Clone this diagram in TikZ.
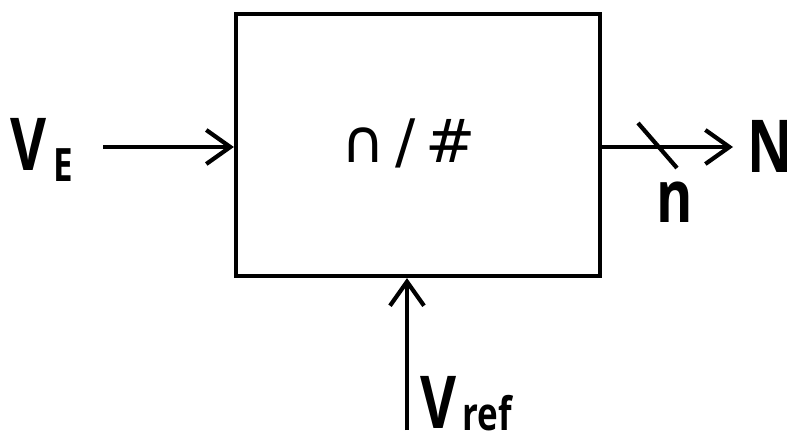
\documentclass[tikz,border=0pt]{standalone}
\usepackage{fontspec}
\setmainfont{Open Sans}[FakeStretch=0.76]
\newfontfamily\symfont{DejaVu Sans}
\usetikzlibrary{arrows.meta}
\begin{document}
\begin{tikzpicture}[x=1pt,y=-1pt,
  wire/.style={line width=4.2pt},
  sig/.style={wire,-{Straight Barb[length=24pt,width=34pt,line width=4.2pt]}},
  big/.style={inner sep=0pt,font=\fontsize{73}{73}\selectfont\bfseries},
  small/.style={inner sep=0pt,font=\fontsize{46}{46}\selectfont\bfseries}]
  \useasboundingbox (0,0) rectangle (787,441);
  % converter block
  \node[draw,line width=4.2pt,minimum width=364pt,minimum height=262pt,inner sep=0pt]
    (adc) at (418,145) {};
  \node[inner sep=0pt,anchor=base,font=\symfont\fontsize{60}{60}\selectfont] (fn) at (409,163) {∩\,/\,\#};
  % analog input
  \coordinate (inE) at (103,147);
  \draw[sig] (inE) -- (inE -| adc.west);
  \node[big,anchor=base west] (ve) at (10,170) {V};
  \node[small,anchor=base west] (ves) at (53,182) {E};
  % reference input
  \coordinate (inR) at (407,430);
  \draw[sig] (inR) -- (inR |- adc.south);
  \node[big,anchor=base west] (vr) at (420,428) {V};
  \node[small,anchor=base west] (vrs) at (462,430) {ref};
  % digital output bus
  \coordinate (outN) at (733,147);
  \draw[sig] (outN -| adc.east) -- (outN);
  \coordinate (busA) at (638,123);
  \coordinate (busB) at (677,168);
  \draw[wire] (busA) -- (busB);
  \node[big,anchor=base west] (nn) at (656,222) {n};
  \node[big,anchor=base west] (nout) at (747,172) {N};
\end{tikzpicture}
\end{document}
